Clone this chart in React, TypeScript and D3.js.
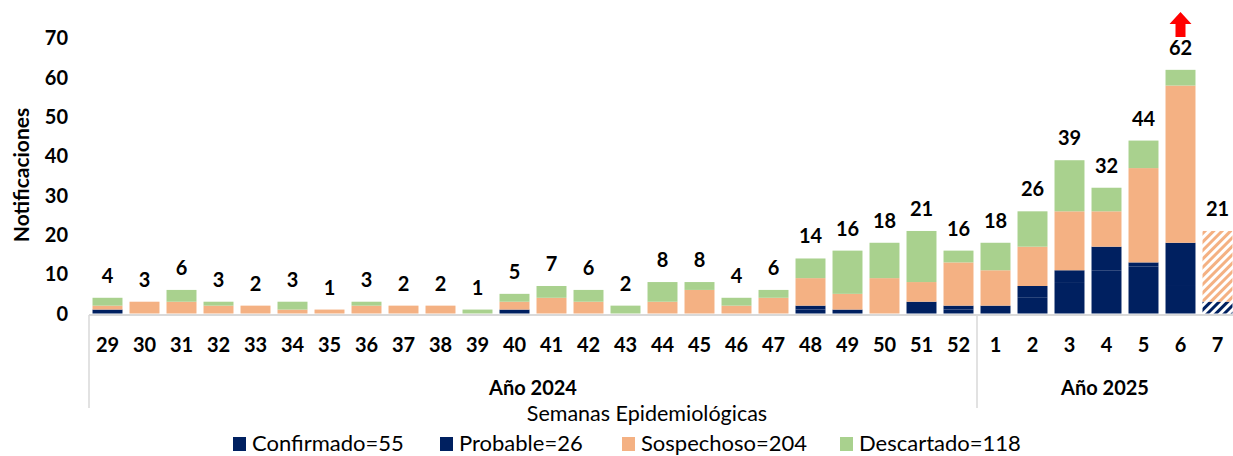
import React from "react";
import * as d3 from "d3";

const weeks = ["29","30","31","32","33","34","35","36","37","38","39","40","41","42","43","44","45","46","47","48","49","50","51","52","1","2","3","4","5","6","7"];
const confirmados = [1,0,0,0,0,0,0,0,0,0,0,1,0,0,0,0,0,0,0,1,1,0,3,1,2,4,8,11,12,7,3];
const probables   = [0,0,0,0,0,0,0,0,0,0,0,0,0,0,0,0,0,0,0,1,0,0,0,1,0,3,3,6,1,11,0];
const sospechosos = [1,3,3,2,2,1,1,2,2,2,0,2,4,3,0,3,6,2,4,7,4,9,5,11,9,10,15,9,24,40,18];
const descartados = [2,0,3,1,0,2,0,1,0,0,1,2,3,3,2,5,2,2,2,5,11,9,13,3,7,9,13,6,7,4,0];
const partialWeeks = ["7"];
const arrowWeek = "6";
const yTicks = [0,10,20,30,40,50,60,70];
const yearGroups = [
  { label: "Año 2024", from: "29", to: "52" },
  { label: "Año 2025", from: "1", to: "7" },
];
const seriesNames = ["Confirmado", "Probable", "Sospechoso", "Descartado"];
const seriesTotals = [55, 26, 204, 118];
const seriesColors = ["#002060", "#002060", "#F4B183", "#A9D18E"];
const seriesData = [confirmados, probables, sospechosos, descartados];

if (typeof document !== "undefined") document.body.style.margin = "0";

const W = 1233, H = 456;
const FONT = "Lato, 'Open Sans', sans-serif";

export default function App() {
  const x = d3.scaleBand<string>().domain(weeks).range([89, 1236]).paddingInner(0.19).paddingOuter(0.095);
  const y = d3.scaleLinear().domain([0, 70]).range([313.5, 38.4]);
  const step = x.step();
  const bw = x.bandwidth();
  const stackInput = weeks.map((w, i) => ({ week: w, s0: confirmados[i], s1: probables[i], s2: sospechosos[i], s3: descartados[i] }));
  const stack = d3.stack<any>().keys(["s0", "s1", "s2", "s3"])(stackInput);
  const totals = weeks.map((_, i) => seriesData.reduce((a, s) => a + s[i], 0));
  const boundaryX = (w: string) => (x(w) as number) - (step - bw) / 2;
  const legendX = [233, 440, 622, 840];

  return (
    <svg width={W} height={H} style={{ display: "block" }} fontFamily={FONT}>
      <defs>
        <pattern id="hatchOrange" width="6" height="6" patternUnits="userSpaceOnUse" patternTransform="rotate(45)">
          <rect width="6" height="6" fill="#ffffff" />
          <rect width="3" height="6" fill="#F4B183" />
        </pattern>
        <pattern id="hatchNavy" width="6" height="6" patternUnits="userSpaceOnUse" patternTransform="rotate(45)">
          <rect width="6" height="6" fill="#ffffff" />
          <rect width="3" height="6" fill="#002060" />
        </pattern>
      </defs>
      <rect width={W} height={H} fill="#ffffff" />
      {yTicks.map((t) => (
        <text key={t} x={68} y={y(t) + 7} textAnchor="end" fontWeight="bold" fontSize={20} fill="#000">{t}</text>
      ))}
      <text transform={`translate(29,175) rotate(-90)`} textAnchor="middle" fontWeight="bold" fontSize={21} fill="#000">Notificaciones</text>
      {stack.map((layer, li) => (
        <g key={li}>
          {layer.map((d, i) => {
            const v = d[1] - d[0];
            if (v <= 0) return null;
            const w = weeks[i];
            const partial = partialWeeks.includes(w);
            const fill = partial ? (li < 2 ? "url(#hatchNavy)" : "url(#hatchOrange)") : seriesColors[li];
            return (
              <rect key={w} x={x(w)} y={y(d[1])} width={bw} height={y(d[0]) - y(d[1])} fill={fill} />
            );
          })}
        </g>
      ))}
      {weeks.map((w, i) => (
        <text key={w} x={(x(w) as number) + bw / 2} y={y(totals[i]) - 15} textAnchor="middle" fontWeight="bold" fontSize={20} fill="#000">{totals[i]}</text>
      ))}
      {(() => {
        const cx = (x(arrowWeek) as number) + bw / 2;
        const p = `M${cx},12 L${cx + 11},24 L${cx + 5},24 L${cx + 5},37 L${cx - 5},37 L${cx - 5},24 L${cx - 11},24 Z`;
        return <path d={p} fill="#FF0000" />;
      })()}
      <line x1={89} x2={W} y1={315} y2={315} stroke="#D9D9D9" strokeWidth={2} />
      {yearGroups.map((g, gi) => (
        <line key={gi} x1={boundaryX(g.from)} x2={boundaryX(g.from)} y1={315} y2={408} stroke="#D9D9D9" strokeWidth={1.5} />
      ))}
      {weeks.map((w) => (
        <text key={w} x={(x(w) as number) + bw / 2} y={352} textAnchor="middle" fontWeight="bold" fontSize={20} fill="#000">{w}</text>
      ))}
      {yearGroups.map((g, gi) => {
        const x0 = boundaryX(g.from);
        const x1 = Math.min(boundaryX(g.to) + step, W);
        return (
          <text key={gi} x={(x0 + x1) / 2} y={395} textAnchor="middle" fontWeight="bold" fontSize={20} fill="#000">{g.label}</text>
        );
      })}
      <text x={647} y={421} textAnchor="middle" fontSize={21.5} fill="#000">Semanas Epidemiológicas</text>
      {seriesNames.map((n, i) => (
        <g key={n}>
          <rect x={legendX[i]} y={437} width={13} height={14} fill={seriesColors[i]} />
          <text x={legendX[i] + 19} y={451} fontSize={22} fill="#000">{`${n}=${seriesTotals[i]}`}</text>
        </g>
      ))}
    </svg>
  );
}
